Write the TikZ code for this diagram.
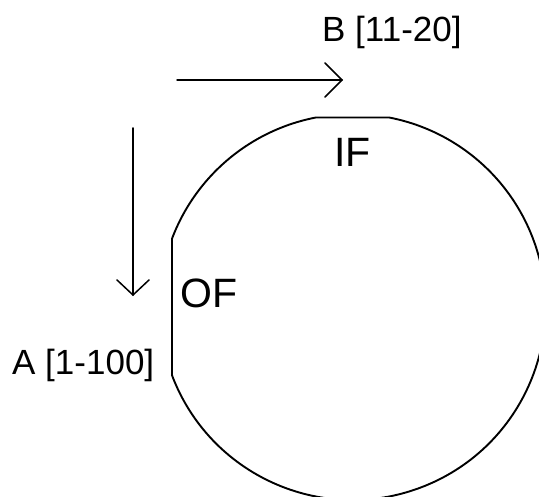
\documentclass[tikz,border=0pt]{standalone}
\usepackage{fontspec}
\setmainfont{Liberation Sans}
\begin{document}
\begin{tikzpicture}[x=1pt,y=1pt,
  lbl/.style={inner sep=0pt, anchor=base west, font=\fontsize{35}{42}\selectfont},
  flat/.style={inner sep=0pt, anchor=base west, font=\fontsize{41}{48}\selectfont},
  arr/.style={line width=1.5pt, line cap=round, line join=miter},
  wafer/.style={line width=1.9pt}]
\useasboundingbox (0,0) rectangle (539,497);
\clip (0,0) rectangle (539,497);
\coordinate (c) at (352.5,190);
\draw[wafer] ([shift={(100.9:193)}]c) arc[start angle=100.9, end angle=159.3, radius=193]
  -- ([shift={(200.7:193)}]c) arc[start angle=200.7, end angle=439.1, radius=193] -- cycle;
\coordinate (h1) at (177,417);
\coordinate (h2) at (342,417);
\coordinate (v1) at (133,369);
\coordinate (v2) at (133,202);
\draw[arr] (h1) -- (h2);
\draw[arr] (h2) ++(-17,17) -- (h2) -- ++(-17,-17);
\draw[arr] (v1) -- (v2);
\draw[arr] (v2) ++(-16,15) -- (v2) -- ++(16,15);
\node[lbl] (B) at (322,455) {B [11-20]};
\node[lbl] (A) at (12,122) {A [1-100]};
\node[flat] (OF) at (180,189) {OF};
\node[flat] (IF) at (334,330) {IF};
\end{tikzpicture}
\end{document}
